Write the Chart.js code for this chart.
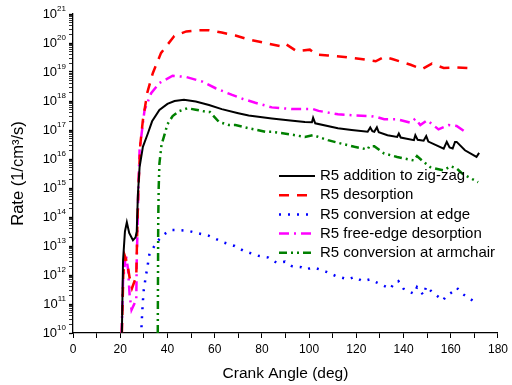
<!DOCTYPE html>
<html>
<head>
<meta charset="utf-8">
<script src="https://cdn.jsdelivr.net/npm/chart.js@4"></script>
<style>
  html, body { margin: 0; padding: 0; background: #fff; }
  #wrap { width: 512px; height: 385px; }
</style>
</head>
<body>
<div id="wrap"><canvas id="myChart" width="512" height="385"></canvas></div>
<script>
// values; y values are stored as log10 of the rate
const labels = [
  "R5 addition to zig-zag",
  "R5 desorption",
  "R5 conversion at edge",
  "R5 free-edge desorption",
  "R5 conversion at armchair"
];

const zigzagX = [20.7, 21.2, 22.0, 22.8, 23.8, 25.4, 26.5, 27.0, 27.5, 28.2, 29.6, 31.7, 33.5, 36.6, 40, 43, 47, 52, 57.6, 63, 70, 74.4, 84.2, 92, 98.2, 101.2, 101.7, 102.6, 112.2, 118, 124.8, 125.9, 126.8, 127.6, 128.7, 129.5, 133.2, 137.3, 138, 138.8, 144.4, 145, 146, 148.5, 149.6, 150.5, 157, 158.3, 159.5, 160.8, 161.8, 162.5, 166, 170.9, 172];
const zigzagY = [10.0, 12.5, 13.5, 13.82, 13.45, 13.2, 13.3, 13.5, 14.8, 15.72, 16.42, 16.88, 17.3, 17.69, 17.9, 18.0, 18.04, 17.98, 17.86, 17.72, 17.58, 17.5, 17.40, 17.33, 17.28, 17.27, 17.42, 17.23, 17.06, 17.0, 16.94, 17.09, 16.96, 16.94, 17.09, 16.92, 16.82, 16.76, 16.88, 16.74, 16.65, 16.82, 16.66, 16.63, 16.79, 16.6, 16.36, 16.59, 16.4, 16.36, 16.59, 16.59, 16.3, 16.07, 16.21];

const desorpX = [20.7, 21.3, 22.0, 23.0, 24.0, 25.0, 26.8, 27.2, 27.7, 28.5, 29.6, 31.5, 33.8, 37.3, 42.9, 48, 53.4, 57.6, 63, 68.8, 74.4, 81.4, 87.7, 89.8, 94.7, 100.3, 103.1, 108, 115, 122, 128.2, 131.8, 135.2, 143, 147.8, 152, 157, 162, 168];
const desorpY = [10.0, 12.0, 12.65, 12.4, 11.9, 11.55, 11.95, 13.5, 15.0, 16.5, 17.34, 18.3, 18.96, 19.66, 20.24, 20.4, 20.44, 20.44, 20.36, 20.26, 20.12, 20.0, 19.89, 19.98, 19.72, 19.77, 19.6, 19.57, 19.52, 19.45, 19.37, 19.52, 19.45, 19.25, 19.1, 19.29, 19.14, 19.16, 19.13];

const edgeX = [29.0, 29.3, 29.6, 30.0, 30.8, 31.7, 32.4, 34.5, 36.6, 38.7, 41.5, 44.3, 48.9, 53.4, 57.6, 63.9, 68.5, 72.3, 78.6, 82.8, 86.3, 89.8, 92.6, 96.8, 98.9, 101, 103.1, 107.3, 111.5, 116.4, 119.2, 122.7, 125.9, 128.2, 131.1, 134.5, 136, 137.8, 139.9, 144.4, 145.7, 148.5, 149.6, 152, 156.7, 158, 160.8, 162.5, 165.3, 169.8];
const edgeY = [10.2, 10.69, 11.1, 11.5, 11.93, 12.37, 12.74, 13.0, 13.24, 13.41, 13.55, 13.55, 13.52, 13.43, 13.35, 13.12, 13.0, 12.83, 12.66, 12.6, 12.42, 12.46, 12.31, 12.27, 12.19, 12.25, 12.23, 12.11, 11.96, 11.85, 11.93, 11.79, 11.85, 11.76, 11.65, 11.53, 11.73, 11.79, 11.53, 11.35, 11.58, 11.3, 11.61, 11.42, 11.12, 11.27, 11.42, 11.56, 11.33, 11.09];

const freeEdgeX = [20.6, 21.2, 22.4, 23.3, 24.0, 24.8, 26.8, 27.0, 27.3, 27.6, 28.2, 30.3, 33.1, 36.6, 42.2, 47.8, 54.8, 60.4, 67.4, 72, 77.2, 84.2, 93, 101.7, 104, 112.2, 120, 126.2, 129, 131.8, 137.3, 143, 145, 147.1, 150, 154.8, 159, 162.5, 166.7];
const freeEdgeY = [10.0, 11.8, 12.71, 12.2, 11.3, 10.8, 11.15, 12.5, 13.5, 14.7, 16.3, 17.69, 18.27, 18.62, 18.87, 18.83, 18.67, 18.44, 18.21, 18.07, 17.94, 17.78, 17.72, 17.72, 17.66, 17.54, 17.5, 17.48, 17.44, 17.37, 17.37, 17.25, 17.39, 17.17, 17.34, 17.02, 17.17, 17.14, 16.9];

const armchairX = [35.9, 36.0, 36.1, 36.3, 36.6, 37.5, 38.7, 40, 42.2, 45, 48.5, 52, 56.2, 58, 61.8, 66, 68.8, 74.4, 81.4, 84.2, 92, 98.2, 101.7, 108, 112.2, 119.2, 124.8, 125.5, 127.6, 131.8, 137.3, 144.4, 145.7, 148.5, 151.3, 153.4, 157, 160, 162.5, 165.3, 171.6];
const armchairY = [10.0, 12.0, 13.87, 15.03, 15.84, 16.5, 16.82, 17.2, 17.48, 17.65, 17.75, 17.7, 17.63, 17.62, 17.28, 17.17, 17.17, 17.06, 16.94, 16.94, 16.85, 16.76, 16.82, 16.65, 16.56, 16.42, 16.33, 16.44, 16.44, 16.19, 16.07, 15.95, 16.1, 15.9, 15.72, 15.67, 15.61, 15.75, 15.67, 15.47, 15.2];

const xTicks = [0, 20, 40, 60, 80, 100, 120, 140, 160, 180];
const yExps = [10, 11, 12, 13, 14, 15, 16, 17, 18, 19, 20, 21];

const FONT = '"Liberation Sans", Arial, Helvetica, sans-serif';
Chart.defaults.font.family = FONT;
Chart.defaults.color = "#000";

function toPoints(xs, ys) {
  return xs.map((x, i) => ({ x: x, y: Math.pow(10, ys[i]) }));
}

const styles = [
  { color: "#000000", width: 2, dash: [] },
  { color: "#ff0000", width: 2.5, dash: [10, 8] },
  { color: "#0000ff", width: 2.5, dash: [2, 7] },
  { color: "#ff00ff", width: 2.5, dash: [10, 5, 2, 5] },
  { color: "#008000", width: 2.5, dash: [8, 4, 2, 4, 2, 4] }
];

const seriesData = [
  toPoints(zigzagX, zigzagY),
  toPoints(desorpX, desorpY),
  toPoints(edgeX, edgeY),
  toPoints(freeEdgeX, freeEdgeY),
  toPoints(armchairX, armchairY)
];

const datasets = seriesData.map((d, i) => ({
  label: labels[i],
  data: d,
  borderColor: styles[i].color,
  backgroundColor: styles[i].color,
  borderWidth: styles[i].width,
  borderDash: styles[i].dash,
  pointRadius: 0,
  tension: 0,
  fill: false
}));

// y tick labels as 10 with a raised exponent
const yLabelPlugin = {
  id: "yLabels",
  afterDraw(chart) {
    const ctx = chart.ctx;
    const y = chart.scales.y;
    ctx.save();
    ctx.fillStyle = "#000";
    ctx.textBaseline = "middle";
    ctx.textAlign = "right";
    const right = y.right - 7;
    yExps.forEach(e => {
      const py = y.getPixelForValue(Math.pow(10, e));
      ctx.font = "8px " + FONT;
      const ew = ctx.measureText(String(e)).width;
      ctx.fillText(String(e), right, py - 5);
      ctx.font = "13px " + FONT;
      ctx.fillText("10", right - ew, py);
    });
    ctx.restore();
  }
};

// legend inside the plot, line samples with each dataset's dash
const legendPlugin = {
  id: "insideLegend",
  afterDraw(chart) {
    const ctx = chart.ctx;
    const area = chart.chartArea;
    const x0 = area.left + 206;
    const y0 = area.top + 162;
    ctx.save();
    chart.data.datasets.forEach((ds, i) => {
      const yy = y0 + i * 19.2;
      ctx.beginPath();
      ctx.strokeStyle = ds.borderColor;
      ctx.lineWidth = ds.borderWidth;
      ctx.setLineDash(ds.borderDash);
      ctx.moveTo(x0, yy);
      ctx.lineTo(x0 + 36, yy);
      ctx.stroke();
      ctx.setLineDash([]);
      ctx.fillStyle = "#000";
      ctx.font = "15px " + FONT;
      ctx.textBaseline = "middle";
      ctx.textAlign = "left";
      ctx.fillText(ds.label, x0 + 41, yy);
    });
    ctx.restore();
  }
};

const config = {
  type: "line",
  data: { datasets: datasets },
  options: {
    responsive: false,
    animation: false,
    layout: { padding: { top: 14, right: 10, left: 0, bottom: 0 } },
    plugins: {
      legend: { display: false },
      tooltip: { enabled: false }
    },
    scales: {
      x: {
        type: "linear",
        min: 0,
        max: 180,
        afterFit: s => { s.height = 52; },
        afterBuildTicks: s => {
          const t = [];
          for (let v = 0; v <= 180; v += 10) t.push({ value: v });
          s.ticks = t;
        },
        ticks: {
          autoSkip: false,
          maxRotation: 0,
          padding: 4,
          font: { size: 12 },
          color: "#000",
          callback: v => (xTicks.includes(v) ? String(v) : "")
        },
        grid: { display: true, drawOnChartArea: false, color: "#000", tickLength: 5 },
        border: { color: "#000", width: 1.3 },
        title: { display: true, text: "Crank Angle (deg)", font: { size: 15.5 }, color: "#000", padding: { top: 0, bottom: 2 } }
      },
      y: {
        type: "logarithmic",
        min: 1e10,
        max: 1e21,
        afterFit: s => { s.width = 73; },
        // every 1..9 x 10^n gets a tick mark, labels are drawn by the plugin
        afterBuildTicks: s => {
          const t = [];
          yExps.forEach(e => {
            for (let m = 1; m <= 9; m++) {
              if (e === 21 && m > 1) break;
              t.push({ value: m * Math.pow(10, e), major: m === 1 });
            }
          });
          s.ticks = t;
        },
        ticks: { autoSkip: false, callback: () => "", font: { size: 12 } },
        grid: {
          display: true,
          drawOnChartArea: false,
          color: "#000",
          tickLength: 4,
          tickWidth: c => (c.tick && c.tick.major ? 1.3 : 0.8)
        },
        border: { color: "#000", width: 1.3 },
        title: { display: true, text: "Rate (1/cm³/s)", font: { size: 16.5 }, color: "#000", padding: { top: 9, bottom: 0 } }
      }
    }
  },
  plugins: [yLabelPlugin, legendPlugin]
};

new Chart(document.getElementById("myChart"), config);
</script>
</body>
</html>
